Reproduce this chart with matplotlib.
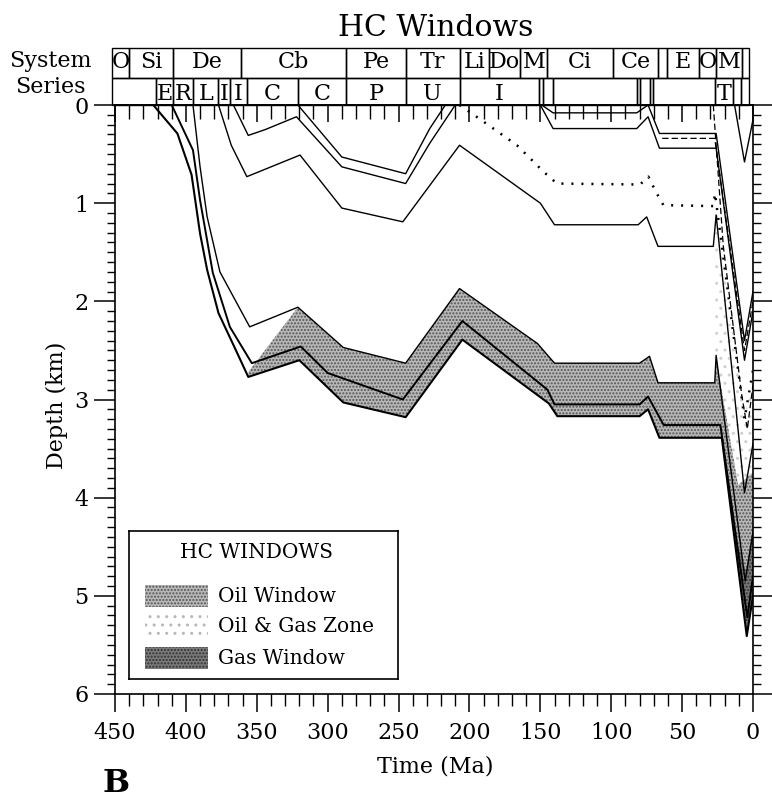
# -*- coding: utf-8 -*-
"""
HC Windows : courbes d'enfouissement et fenetres a hydrocarbures
"""

import numpy as np
import matplotlib
matplotlib.use('Agg')
import matplotlib.pyplot as plt
import matplotlib.transforms as mtransforms
from matplotlib.patches import Rectangle
from matplotlib.ticker import MultipleLocator

plt.rcParams['font.family'] = 'DejaVu Serif'
plt.rcParams['hatch.linewidth'] = 1.0

#==============================================================================================
# Donnees (age en Ma, profondeur en km) =======================================================
#==============================================================================================

# horizons, du plus profond au plus jeune
age_A = [423, 406, 396, 390, 385, 377, 365, 356, 320, 289, 245, 205, 144, 138, 80, 74, 66, 22, 4.4, 0]
prof_A = [0, 0.29, 0.71, 1.31, 1.68, 2.12, 2.49, 2.77, 2.6, 3.03, 3.18, 2.39, 3.04, 3.17, 3.17, 3.1, 3.39, 3.39, 5.41, 5.0]

age_B = [410, 395, 390, 381, 369, 353.5, 319, 300, 247, 205, 145, 140, 80, 74, 63, 23, 4, 0]
prof_B = [0, 0.46, 0.97, 1.71, 2.26, 2.63, 2.46, 2.73, 3.0, 2.2, 2.9, 3.05, 3.05, 2.97, 3.26, 3.26, 5.22, 4.8]

age_C = [395, 390, 385, 376, 355, 321, 289, 245, 207, 152, 140, 80, 73, 67, 27, 26, 5.5, 0]
prof_C = [0, 0.63, 1.14, 1.70, 2.26, 2.06, 2.47, 2.63, 1.87, 2.43, 2.63, 2.63, 2.56, 2.83, 2.83, 2.55, 4.85, 4.35]

age_D = [377, 368, 357, 319.5, 290, 247, 207, 150, 140, 81, 75, 67, 28, 26, 6, 0]
prof_D = [0, 0.41, 0.73, 0.51, 1.05, 1.19, 0.41, 1.0, 1.22, 1.22, 1.14, 1.44, 1.44, 1.12, 3.95, 3.45]

age_E = [366.5, 356, 344, 322, 290, 245, 228, 210]
prof_E = [0, 0.31, 0.25, 0.12, 0.63, 0.80, 0.39, 0]

age_F = [321, 290, 245, 228, 217]
prof_F = [0, 0.53, 0.70, 0.24, 0]

age_G = [150, 141, 82, 74, 66, 26, 6, 0]
prof_G = [0, 0.24, 0.24, 0.12, 0.44, 0.44, 2.6, 2.1]

age_I = [149, 141, 82, 74]
prof_I = [0, 0.08, 0.08, 0]

age_H = [74, 66, 26, 6, 0]
prof_H = [0, 0.29, 0.29, 2.4, 1.9]

age_T = [13, 6, 0]
prof_T = [0, 0.58, 0.15]

# lignes pointillee et tiretees
age_pointille = [207, 190, 166.5, 147.7, 138.3, 79.7, 73.8, 67.9, 63.2, 27.9, 26.8, 6, 0]
prof_pointille = [0, 0.17, 0.41, 0.68, 0.8, 0.81, 0.73, 0.9, 1.02, 1.03, 0.9, 3.2, 2.7]

age_tiret1 = [64, 27, 6, 0]
prof_tiret1 = [0.34, 0.34, 2.5, 2.0]

age_tiret2 = [28, 21, 8, 4, 0]
prof_tiret2 = [0, 1.43, 2.95, 3.3, 2.85]

# fenetres
age_huile = [356, 321, 289, 245, 207, 152, 140, 80, 73, 67, 27, 26, 22, 10.4, 1, 0]
toit_huile = [2.72, 2.06, 2.47, 2.63, 1.87, 2.43, 2.63, 2.63, 2.56, 2.83, 2.83, 2.55, 2.9, 3.87, 3.75, 3.75]

age_gaz = [13, 10, 5, 0]
toit_gaz = [4.42, 4.5, 4.75, 4.3]

# echelle stratigraphique
bornes_systeme = [452, 440, 409, 361, 287, 245, 207, 186, 164, 145, 99, 67, 61, 38, 26, 8, 3]
noms_systeme = ['O', 'Si', 'De', 'Cb', 'Pe', 'Tr', 'Li', 'Do', 'M', 'Ci', 'Ce', '', 'E', 'O', 'M', '']

bornes_serie = [452, 421, 409, 395, 377, 369, 357, 321, 287, 245, 207, 151, 148, 141, 82, 80, 73, 70.5, 27, 14, 8.5, 3]
noms_serie = ['', 'E', 'R', 'L', 'I', 'I', 'C', 'C', 'P', 'U', 'I', '', '', '', '', '', '', '', 'T', '', '']


#==============================================================================================
# Fonctions ===================================================================================
#==============================================================================================

def sur_grille(age, prof, grille):
    # interpolation sur une grille d'ages (np.interp veut des x croissants)
    return np.interp(grille, np.array(age)[::-1], np.array(prof)[::-1])


def grille_commune(*listes, debut=None, fin=None):
    g = np.unique(np.concatenate([np.array(l, dtype=float) for l in listes]))
    if debut is not None:
        g = g[g <= debut]
    if fin is not None:
        g = g[g >= fin]
    return g[::-1]


#==============================================================================================
# Figure ======================================================================================
#==============================================================================================

fig = plt.figure(figsize=(7.72, 8.0), dpi=100)
ax = fig.add_axes([115/772, 106/800, 638/772, 589/800])
ax.set_xlim(450, 0)
ax.set_ylim(6, 0)

# fenetre a huile
g = grille_commune(age_huile, age_A, debut=356, fin=0)
ax.fill_between(g, sur_grille(age_huile, toit_huile, g), sur_grille(age_A, prof_A, g),
                facecolor='#b8b8b8', hatch='.....', edgecolor='#555555', linewidth=0, zorder=1)

# zone huile et gaz
g = grille_commune(age_pointille, age_huile, debut=26.8, fin=0)
ax.fill_between(g, sur_grille(age_pointille, prof_pointille, g), sur_grille(age_huile, toit_huile, g),
                facecolor='white', hatch='..', edgecolor='#d0d0d0', linewidth=0, zorder=1)

# fenetre a gaz
g = grille_commune(age_gaz, age_A, debut=13, fin=0)
ax.fill_between(g, sur_grille(age_gaz, toit_gaz, g), sur_grille(age_A, prof_A, g),
                facecolor='#7a7a7a', hatch='.....', edgecolor='#303030', linewidth=0, zorder=1)

# horizons
ax.plot(age_A, prof_A, color='black', lw=1.5, zorder=3)
ax.plot(age_B, prof_B, color='black', lw=1.4, zorder=3)
for a, p in [(age_C, prof_C), (age_D, prof_D), (age_E, prof_E), (age_F, prof_F),
             (age_G, prof_G), (age_I, prof_I), (age_H, prof_H), (age_T, prof_T)]:
    ax.plot(a, p, color='black', lw=1.0, zorder=3)

ax.plot(age_pointille, prof_pointille, color='black', lw=1.8, linestyle=(0, (0.8, 3.2)), zorder=3)
ax.plot(age_tiret1, prof_tiret1, color='black', lw=0.9, linestyle=(0, (5, 2.5)), zorder=3)
ax.plot(age_tiret2, prof_tiret2, color='black', lw=0.9, linestyle=(0, (5, 2.5)), zorder=3)

# axes et graduations
for s in ax.spines.values():
    s.set_linewidth(1.2)
ax.xaxis.set_major_locator(MultipleLocator(50))
ax.xaxis.set_minor_locator(MultipleLocator(10))
ax.yaxis.set_major_locator(MultipleLocator(1))
ax.yaxis.set_minor_locator(MultipleLocator(0.1))
ax.tick_params(axis='x', which='major', direction='out', length=13, width=1.1, pad=7, labelsize=16)
ax.tick_params(axis='x', which='minor', direction='out', length=8.5, width=1.0)
ax.tick_params(axis='y', which='major', direction='out', length=15, width=1.1, pad=4,
               labelsize=16, right=True)
ax.tick_params(axis='y', which='minor', direction='out', length=6, width=1.0, right=True)

haut = ax.secondary_xaxis('top')
haut.xaxis.set_major_locator(MultipleLocator(50))
haut.xaxis.set_minor_locator(MultipleLocator(10))
haut.tick_params(axis='x', which='major', direction='in', length=12, width=1.1, labeltop=False)
haut.tick_params(axis='x', which='minor', direction='in', length=10, width=1.0)
haut.spines['top'].set_linewidth(1.2)

ax.set_xlabel('Time (Ma)', fontsize=16)
ax.xaxis.set_label_coords(0.502, -0.105)
fig.text(57/772, 1 - 405/800, 'Depth (km)', rotation=90, ha='center', va='center', fontsize=16)

# echelle stratigraphique au dessus du graphique
trans = mtransforms.blended_transform_factory(ax.transData, ax.transAxes)
y_sys, h_sys = 1.0464, 0.0509
y_ser, h_ser = 1.0, 0.0464
for i, nom in enumerate(noms_systeme):
    x0, x1 = bornes_systeme[i], bornes_systeme[i + 1]
    ax.add_patch(Rectangle((x0, y_sys), x1 - x0, h_sys, transform=trans, fill=False,
                           lw=1.0, edgecolor='black', clip_on=False))
    ax.text((x0 + x1) / 2, 1.0628, nom, transform=trans, ha='center', va='baseline', fontsize=16)
for i, nom in enumerate(noms_serie):
    x0, x1 = bornes_serie[i], bornes_serie[i + 1]
    ax.add_patch(Rectangle((x0, y_ser), x1 - x0, h_ser, transform=trans, fill=False,
                           lw=1.0, edgecolor='black', clip_on=False))
    ax.text((x0 + x1) / 2, 1.0085, nom, transform=trans, ha='center', va='baseline', fontsize=16)

fig.text(50/772, 1 - 67/800, 'System', ha='center', va='baseline', fontsize=16)
fig.text(50/772, 1 - 93/800, 'Series', ha='center', va='baseline', fontsize=16)
fig.text(436/772, 1 - 36/800, 'HC Windows', ha='center', va='baseline', fontsize=21.5)
fig.text(103/772, 1 - 792/800, 'B', ha='left', va='baseline', fontsize=23, fontweight='bold')

# legende dessinee a la main
leg = fig.add_axes([129/772, 121/800, 269/772, 148/800])
leg.set_xlim(0, 269)
leg.set_ylim(148, 0)
leg.set_xticks([])
leg.set_yticks([])
for s in leg.spines.values():
    s.set_linewidth(1.2)
leg.text(128, 21.5, 'HC WINDOWS', ha='center', va='center', fontsize=14.5)
styles_leg = [('Oil Window', '#b8b8b8', '#555555', '.....', 54),
              ('Oil & Gas Zone', 'white', '#b8b8b8', '..', 84),
              ('Gas Window', '#7a7a7a', '#303030', '.....', 116)]
for texte, fc, hc, hatch, y0 in styles_leg:
    leg.add_patch(Rectangle((16, y0), 63, 22, facecolor=fc, edgecolor=hc, hatch=hatch, linewidth=0))
    leg.text(89, y0 + 11, texte, ha='left', va='center', fontsize=14.5)

plt.savefig('out.png', dpi=100)
